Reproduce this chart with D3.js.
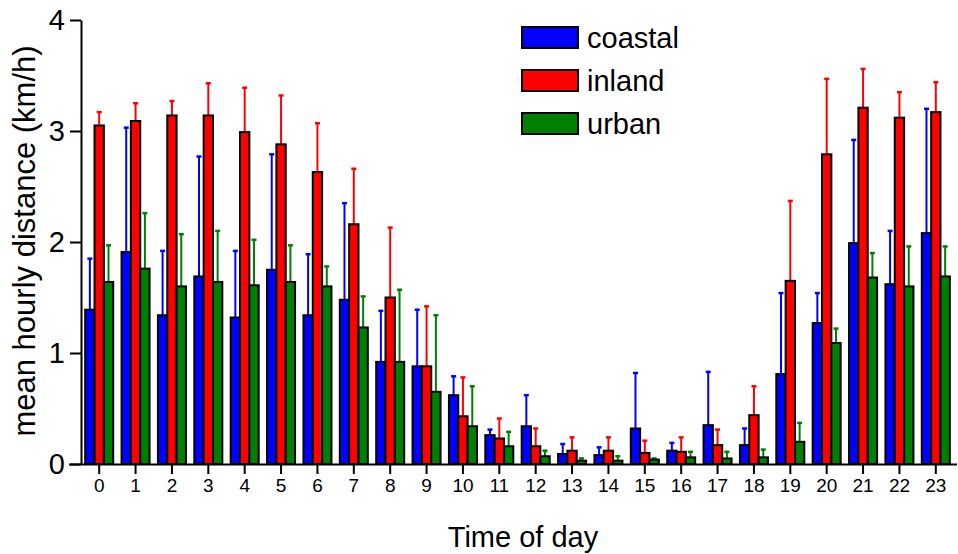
<!DOCTYPE html>
<html>
<head>
<meta charset="utf-8">
<script src="https://cdn.jsdelivr.net/npm/d3@7"></script>
<style>
  html, body { margin: 0; padding: 0; background: #fff; }
  svg { display: block; font-family: "Liberation Sans", Arial, sans-serif; }
</style>
</head>
<body>
<svg id="chart" width="958" height="554"></svg>
<script>
const hours = ["0","1","2","3","4","5","6","7","8","9","10","11","12","13","14","15","16","17","18","19","20","21","22","23"];
const seriesNames = ["coastal", "inland", "urban"];
const seriesColors = ["#0000ff", "#ff0000", "#008000"];

const coastal    = [1.39,1.91,1.34,1.69,1.32,1.75,1.34,1.48,0.92,0.88,0.62,0.26,0.34,0.09,0.08,0.32,0.12,0.35,0.17,0.81,1.27,1.99,1.62,2.08];
const coastalErr = [0.46,1.12,0.58,1.08,0.60,1.04,0.55,0.87,0.46,0.51,0.17,0.05,0.28,0.09,0.07,0.50,0.07,0.48,0.15,0.73,0.27,0.93,0.48,1.12];
const inland     = [3.05,3.09,3.14,3.14,2.99,2.88,2.63,2.16,1.50,0.88,0.43,0.23,0.16,0.12,0.12,0.10,0.11,0.17,0.44,1.65,2.79,3.21,3.12,3.17];
const inlandErr  = [0.12,0.16,0.13,0.29,0.40,0.44,0.44,0.50,0.63,0.54,0.35,0.18,0.16,0.12,0.12,0.11,0.13,0.14,0.26,0.72,0.68,0.35,0.23,0.27];
const urban      = [1.64,1.76,1.60,1.64,1.61,1.64,1.60,1.23,0.92,0.65,0.34,0.16,0.07,0.03,0.03,0.04,0.06,0.05,0.06,0.20,1.09,1.68,1.60,1.69];
const urbanErr   = [0.33,0.50,0.47,0.46,0.41,0.33,0.18,0.28,0.65,0.69,0.36,0.13,0.05,0.02,0.04,0.01,0.05,0.06,0.07,0.17,0.13,0.22,0.36,0.27];
const yTicks = [0, 1, 2, 3, 4];

const values = [coastal, inland, urban];
const errs = [coastalErr, inlandErr, urbanErr];

const svg = d3.select("#chart");
const mLeft = 81, mRight = 954, mTop = 20, mBottom = 464;

const x0 = d3.scaleBand().domain(hours).range([mLeft, mRight]).paddingInner(0.23).paddingOuter(0.115);
const x1 = d3.scaleBand().domain(seriesNames).range([0, x0.bandwidth()]).padding(0);
const y = d3.scaleLinear().domain([0, 4]).range([mBottom, mTop]);

// error bars
const capW = 5;
seriesNames.forEach((s, si) => {
  const g = svg.append("g");
  hours.forEach((h, i) => {
    const cx = x0(h) + x1(s) + x1.bandwidth() / 2;
    const v = values[si][i], e = errs[si][i];
    g.append("line")
      .attr("x1", cx).attr("x2", cx)
      .attr("y1", y(v)).attr("y2", y(v + e))
      .attr("stroke", seriesColors[si]).attr("stroke-width", 2);
    g.append("line")
      .attr("x1", cx - capW / 2).attr("x2", cx + capW / 2)
      .attr("y1", y(v + e)).attr("y2", y(v + e))
      .attr("stroke", seriesColors[si]).attr("stroke-width", 2.5);
  });
});

// bars
seriesNames.forEach((s, si) => {
  svg.append("g").selectAll("rect")
    .data(hours.map((h, i) => ({ h, v: values[si][i] })))
    .join("rect")
    .attr("x", d => x0(d.h) + x1(s))
    .attr("y", d => y(d.v))
    .attr("width", x1.bandwidth())
    .attr("height", d => y(0) - y(d.v))
    .attr("fill", seriesColors[si])
    .attr("stroke", "#000")
    .attr("stroke-width", 2);
});

// y axis
const yAxis = svg.append("g")
  .attr("transform", `translate(${mLeft},0)`)
  .call(d3.axisLeft(y).tickValues(yTicks).tickFormat(d3.format("d")).tickSize(11).tickSizeOuter(0).tickPadding(5));
yAxis.selectAll("text").attr("font-size", 29).attr("fill", "#000").attr("font-family", "'Liberation Sans', Arial, sans-serif");
yAxis.selectAll("line").attr("stroke", "#000").attr("stroke-width", 2);
yAxis.select(".domain").attr("stroke", "#000").attr("stroke-width", 2);

// x axis
const xAxis = svg.append("g")
  .attr("transform", `translate(0,${mBottom})`)
  .call(d3.axisBottom(x0).tickSize(10).tickSizeOuter(0).tickPadding(5));
xAxis.selectAll("text").attr("font-size", 19).attr("fill", "#000").attr("font-family", "'Liberation Sans', Arial, sans-serif");
xAxis.selectAll("line").attr("stroke", "#000").attr("stroke-width", 2);
xAxis.select(".domain").attr("stroke", "#000").attr("stroke-width", 2)
  .attr("d", `M${mLeft - 12},0.5H${mRight + 3}`);

// axis titles
svg.append("text")
  .attr("x", 523).attr("y", 547)
  .attr("text-anchor", "middle")
  .attr("font-size", 29)
  .text("Time of day");

svg.append("text")
  .attr("transform", "translate(35,241) rotate(-90)")
  .attr("text-anchor", "middle")
  .attr("font-size", 31)
  .text("mean hourly distance (km/h)");

// legend
const legend = svg.append("g");
seriesNames.forEach((s, si) => {
  const ly = 27 + si * 43;
  legend.append("rect")
    .attr("x", 522).attr("y", ly)
    .attr("width", 56).attr("height", 21)
    .attr("fill", seriesColors[si])
    .attr("stroke", "#000").attr("stroke-width", 2);
  legend.append("text")
    .attr("x", 587).attr("y", ly + 21)
    .attr("font-size", 29)
    .text(s);
});
</script>
</body>
</html>
